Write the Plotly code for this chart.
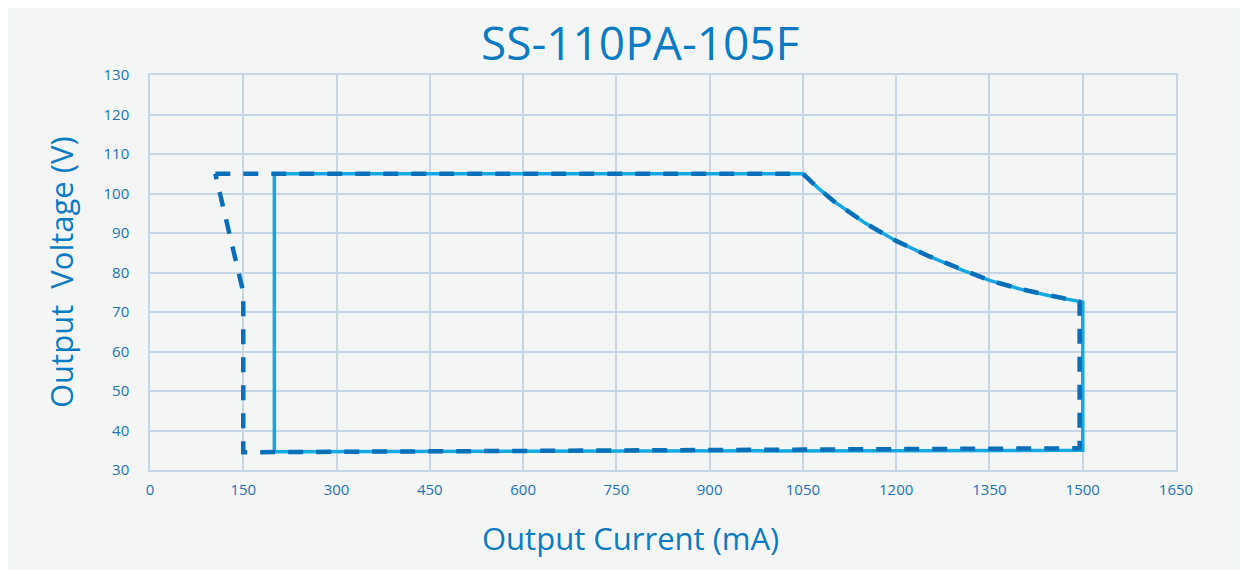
import plotly.graph_objects as go

# ---- data ----
x_ticks = [0, 150, 300, 450, 600, 750, 900, 1050, 1200, 1350, 1500, 1650]
y_ticks = [30, 40, 50, 60, 70, 80, 90, 100, 110, 120, 130]

# solid curve (light blue)
solid_current = [200, 200, 1050, 1075, 1100, 1150, 1200, 1250, 1300, 1350, 1400, 1450, 1500, 1500, 200]
solid_voltage = [34.6, 105, 105, 101.3, 98, 92.5, 88, 84.3, 81, 78, 75.8, 74, 72.5, 35, 34.6]

# dashed curve (dark blue)
dash_current = [105, 1050, 1075, 1100, 1150, 1200, 1250, 1300, 1350, 1400, 1450, 1495, 1495, 150, 150, 105]
dash_voltage = [105, 105, 101.3, 98, 92.5, 88, 84.3, 81, 78, 75.8, 74, 72.6, 35.5, 34.5, 75, 105]

text_blue = "#1b72b8"
title_blue = "#0b7cc3"
grid_col = "#c5d7e7"

W, H = 1248, 570
L, R, T, B = 142, 80, 67, 108
PW, PH = W - L - R, H - T - B

def px(xf):
    return (xf - L) / PW

def py(yf):
    return (H - B - yf) / PH

FONT = "Open Sans, Noto Sans, sans-serif"

fig = go.Figure()
fig.add_trace(go.Scatter(x=solid_current, y=solid_voltage, mode="lines",
                         line=dict(color="#14a9e2", width=3.5), hoverinfo="skip"))
fig.add_trace(go.Scatter(x=dash_current, y=dash_voltage, mode="lines",
                         line=dict(color="#0a6fb9", width=4.5, dash="15px,13px"), hoverinfo="skip"))

fig.update_layout(
    width=W, height=H,
    margin=dict(l=L, r=R, t=T, b=B),
    paper_bgcolor="#f4f6f6",
    plot_bgcolor="#f4f6f6",
    showlegend=False,
    font=dict(family=FONT, color=text_blue),
    annotations=[
        dict(text="SS-110PA-105F", xref="paper", yref="paper",
             x=px(632), y=py(34), xanchor="center", yanchor="middle",
             showarrow=False, font=dict(size=46, color=title_blue, family=FONT)),
        dict(text="Output Current (mA)", xref="paper", yref="paper",
             x=px(622), y=py(530), xanchor="center", yanchor="middle",
             showarrow=False, font=dict(size=31, color=title_blue, family=FONT)),
        dict(text="Output\u00a0\u00a0Voltage (V)", xref="paper", yref="paper",
             x=px(53), y=py(264), xanchor="center", yanchor="middle", textangle=-90,
             showarrow=False, font=dict(size=31, color=title_blue, family=FONT)),
    ],
)

fig.update_xaxes(range=[0, 1650], tickvals=x_ticks, ticktext=[str(v) for v in x_ticks],
                 showgrid=True, gridcolor=grid_col, gridwidth=1.5,
                 showline=True, linecolor=grid_col, linewidth=1.5, mirror=True,
                 zeroline=False, ticks="", ticklabelstandoff=5,
                 tickfont=dict(size=15, color=text_blue, family=FONT))
fig.update_yaxes(range=[30, 130], tickvals=y_ticks, ticktext=[str(v) for v in y_ticks],
                 showgrid=True, gridcolor=grid_col, gridwidth=1.5,
                 showline=True, linecolor=grid_col, linewidth=1.5, mirror=True,
                 zeroline=False, ticks="", ticklabelstandoff=16,
                 tickfont=dict(size=15, color=text_blue, family=FONT))

fig.write_html("out.html")
